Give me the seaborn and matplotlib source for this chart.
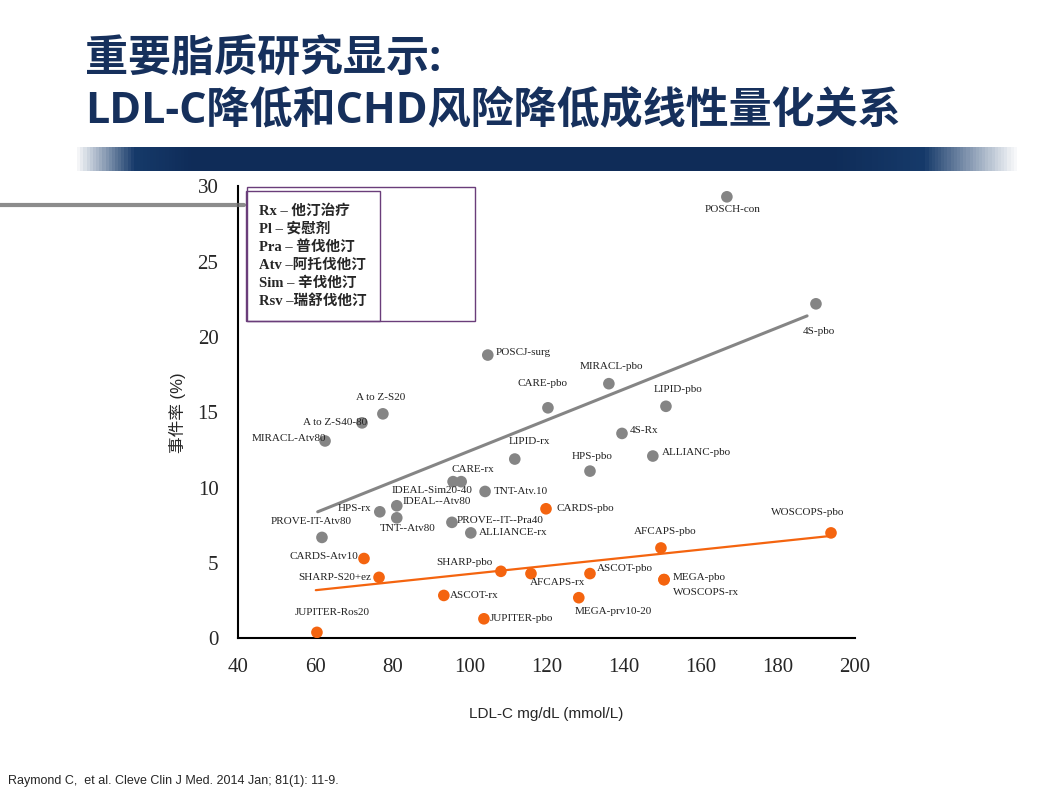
import numpy as np
import pandas as pd
import matplotlib
matplotlib.use("Agg")
import matplotlib.pyplot as plt
import seaborn as sns

# data
gray_names = ["POSCH-con", "4S-pbo", "POSCJ-surg", "MIRACL-pbo", "CARE-pbo", "LIPID-pbo", "4S-Rx",
              "ALLIANC-pbo", "HPS-pbo", "LIPID-rx", "CARE-rx", "IDEAL-Sim20-40", "TNT-Atv.10",
              "A to Z-S20", "A to Z-S40-80", "MIRACL-Atv80", "HPS-rx", "IDEAL--Atv80", "TNT--Atv80",
              "PROVE--IT--Pra40", "ALLIANCE-rx", "PROVE-IT-Atv80"]
gray_ldl = [166.8, 189.9, 104.8, 136.2, 120.4, 151.0, 139.6, 147.6, 131.3, 111.8, 95.8, 97.9, 104.1,
            77.6, 72.2, 62.6, 76.8, 81.2, 81.2, 95.5, 100.4, 61.8]
gray_rate = [29.3, 22.2, 18.8, 16.9, 15.3, 15.4, 13.6, 12.1, 11.1, 11.9, 10.4, 10.4, 9.75,
             14.9, 14.3, 13.1, 8.4, 8.8, 8.0, 7.7, 7.0, 6.7]

orange_names = ["CARDS-pbo", "WOSCOPS-pbo", "AFCAPS-pbo", "CARDS-Atv10", "SHARP-S20+ez", "SHARP-pbo",
                "AFCAPS-rx", "ASCOT-pbo", "MEGA-pbo", "WOSCOPS-rx", "ASCOT-rx", "MEGA-prv10-20",
                "JUPITER-pbo", "JUPITER-Ros20"]
orange_ldl = [119.9, 193.8, 149.7, 72.7, 76.6, 108.2, 116.0, 131.3, 150.5, 150.5, 93.4, 128.4, 103.8, 60.5]
orange_rate = [8.6, 7.0, 6.0, 5.3, 4.05, 4.45, 4.3, 4.3, 3.9, 3.9, 2.85, 2.7, 1.3, 0.4]

gray_fit_x = [60.7, 187.6]
gray_fit_y = [8.4, 21.4]
orange_fit_x = [60.2, 193.8]
orange_fit_y = [3.2, 6.8]

legend_lines = ["Rx – 他汀治疗", "Pl – 安慰剂", "Pra – 普伐他汀", "Atv –阿托伐他汀", "Sim – 辛伐他汀", "Rsv –瑞舒伐他汀"]

# label placement: (dx px, dy px, ha)
label_pos = {
    "POSCH-con": (6, -13, "center"), "4S-pbo": (3, -28, "center"), "POSCJ-surg": (8, 3, "left"),
    "MIRACL-pbo": (3, 17, "center"), "CARE-pbo": (-5, 24, "center"), "LIPID-pbo": (12, 17, "center"),
    "4S-Rx": (8, 3, "left"), "ALLIANC-pbo": (9, 4, "left"), "HPS-pbo": (2, 15, "center"),
    "LIPID-rx": (15, 18, "center"), "CARE-rx": (20, 12, "center"), "IDEAL-Sim20-40": (-29, -9, "center"),
    "TNT-Atv.10": (9, 0, "left"), "A to Z-S20": (-2, 16, "center"), "A to Z-S40-80": (5, 0, "right"),
    "MIRACL-Atv80": (1, 2, "right"), "HPS-rx": (-8, 3, "right"), "IDEAL--Atv80": (6, 4, "left"),
    "TNT--Atv80": (11, -11, "center"), "PROVE--IT--Pra40": (5, 2, "left"), "ALLIANCE-rx": (8, 0, "left"),
    "PROVE-IT-Atv80": (-11, 16, "center"),
    "CARDS-pbo": (10, 0, "left"), "WOSCOPS-pbo": (-23, 20, "center"), "AFCAPS-pbo": (4, 16, "center"),
    "CARDS-Atv10": (-6, 2, "right"), "SHARP-S20+ez": (-8, 0, "right"), "SHARP-pbo": (-37, 9, "center"),
    "AFCAPS-rx": (27, -9, "center"), "ASCOT-pbo": (7, 5, "left"), "MEGA-pbo": (9, 2, "left"),
    "WOSCOPS-rx": (9, -13, "left"), "ASCOT-rx": (6, 0, "left"), "MEGA-prv10-20": (35, -14, "center"),
    "JUPITER-pbo": (6, 0, "left"), "JUPITER-Ros20": (15, 20, "center"),
}

GRAY = "#858585"
ORANGE = "#f4640f"
NAVY = "#16305c"

df = pd.DataFrame({
    "name": gray_names + orange_names,
    "ldl": gray_ldl + orange_ldl,
    "rate": gray_rate + orange_rate,
    "group": ["gray"] * len(gray_names) + ["orange"] * len(orange_names),
})

sns.set_style("white")
plt.rcParams["font.family"] = ["Liberation Serif", "Noto Sans CJK SC", "DejaVu Sans"]

fig = plt.figure(figsize=(10.62, 7.96), dpi=100)

# banner band under the title
band = fig.add_axes([0.07, 0.785, 0.89, 0.03])
grad = np.linspace(0, 1, 300)
shade = np.clip(np.minimum(grad * 8, (1 - grad) * 5), 0, 1)
band.imshow(np.vstack([shade] * 2), aspect="auto", vmin=0, vmax=1,
            cmap=matplotlib.colors.LinearSegmentedColormap.from_list("b", ["#ffffff", "#163a6a", "#0f2c58"]))
band.axis("off")
fig.add_artist(plt.Line2D([0, 0.23], [0.742, 0.742], color="#707070", lw=3, alpha=0.8))

title_font = ["Open Sans", "Noto Sans CJK SC"]
fig.text(0.08, 0.925, "重要脂质研究显示:", fontsize=31, color=NAVY, family=title_font,
         va="center", weight="bold")
fig.text(0.08, 0.86, "LDL-C降低和CHD风险降低成线性量化关系", fontsize=31, color=NAVY,
         family=title_font, va="center", weight="bold")

ax = fig.add_axes([0.224, 0.198, 0.581, 0.568])
sns.scatterplot(data=df, x="ldl", y="rate", hue="group", palette={"gray": GRAY, "orange": ORANGE},
                s=70, edgecolor="none", legend=False, ax=ax, zorder=3)
sns.lineplot(x=gray_fit_x, y=gray_fit_y, color=GRAY, lw=2.2, ax=ax)
sns.lineplot(x=orange_fit_x, y=orange_fit_y, color=ORANGE, lw=1.6, ax=ax)

for _, r in df.iterrows():
    dx, dy, ha = label_pos[r["name"]]
    ax.annotate(r["name"], (r["ldl"], r["rate"]), xytext=(dx, dy), textcoords="offset pixels",
                ha=ha, va="center", fontsize=8, family="Liberation Serif", color="#222222")

ax.set_xlim(40, 200)
ax.set_ylim(0, 30)
ax.set_xticks(range(40, 201, 20))
ax.set_yticks(range(0, 31, 5))
for s in ["top", "right"]:
    ax.spines[s].set_visible(False)
for s in ["left", "bottom"]:
    ax.spines[s].set_linewidth(1.5)
    ax.spines[s].set_color("black")
ax.tick_params(axis="both", direction="out", length=8, width=1.5, labelsize=15, pad=6)
ax.set_xlabel("LDL-C mg/dL (mmol/L)", fontsize=11, family=["Liberation Sans"], labelpad=22)
ax.set_ylabel("事件率 (%)", fontsize=12, family=["Liberation Sans", "Noto Sans CJK SC"], labelpad=8)

ax.text(0.035, 0.96, "\n".join(legend_lines), transform=ax.transAxes, va="top", ha="left",
        fontsize=10.5, weight="bold", linespacing=1.4,
        family=["Liberation Serif", "Noto Sans CJK SC"],
        bbox=dict(boxstyle="square,pad=0.9", fc="white", ec="#6a3d7a", lw=1))
# widen the box to match the slide
ax.add_patch(plt.Rectangle((0.015, 0.702), 0.37, 0.296, transform=ax.transAxes, fill=False,
                           ec="#6a3d7a", lw=1, zorder=5))

fig.text(0.008, 0.015, "Raymond C,  et al. Cleve Clin J Med. 2014 Jan; 81(1): 11-9.", fontsize=9,
         family=["Liberation Sans"])

fig.savefig("out.png", dpi=100)
